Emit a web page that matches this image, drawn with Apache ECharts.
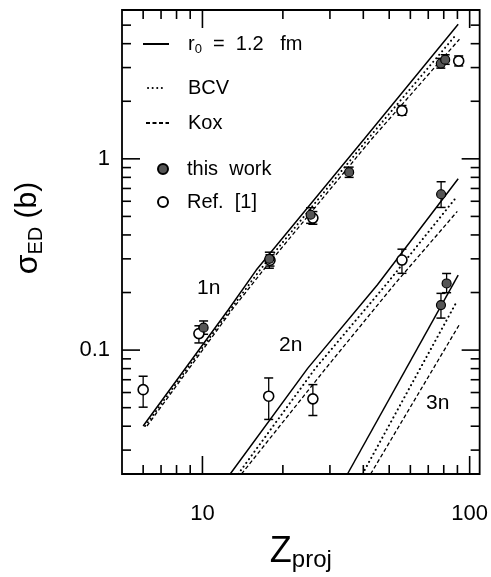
<!DOCTYPE html>
<html>
<head>
<meta charset="utf-8">
<script src="https://cdn.jsdelivr.net/npm/echarts@6/dist/echarts.min.js"></script>
<style>
html,body{margin:0;padding:0;background:#fff;}
#c{width:491px;height:577px;}
</style>
</head>
<body>
<div id="c"></div>
<script>
// ---- axis ticks ----
const xMajorTicks = [10, 100];
const xMinorTicks = [6, 7, 8, 9, 20, 30, 40, 50, 60, 70, 80, 90];
const yMajorTicks = [0.1, 1];
const yMinorTicks = [0.03, 0.04, 0.05, 0.06, 0.07, 0.08, 0.09, 0.2, 0.3, 0.4, 0.5, 0.6, 0.7, 0.8, 0.9, 2, 3, 4, 5];

// ---- theory curves [Z, sigma(b)] ----
const solid1n = [[6.0, 0.0401], [12.5, 0.1625], [15.9, 0.262], [40.3, 1.27], [90.6, 5.05]];
const bcv1n   = [[6.1, 0.0401], [12.7, 0.1625], [16.4, 0.262], [41.6, 1.27], [89.3, 4.48]];
const kox1n   = [[6.2, 0.0401], [12.9, 0.1625], [16.9, 0.262], [43.0, 1.27], [91.6, 4.22]];
const solid2n = [[12.7, 0.0225], [24.8, 0.0805], [45.1, 0.219], [90.6, 0.787]];
const bcv2n   = [[13.6, 0.0225], [26.5, 0.0805], [49.1, 0.2234], [88.7, 0.624]];
const kox2n   = [[14.0, 0.0225], [29.0, 0.0805], [52.7, 0.2234], [89.9, 0.531]];
const solid3n = [[34.9, 0.0225], [90.6, 0.2466]];
const bcv3n   = [[39.7, 0.0225], [88.8, 0.1758]];
const kox3n   = [[42.6, 0.0225], [91.4, 0.1355]];

// ---- data points [Z, sigma, low, high] ----
const thisWork = [
  [10.1, 0.131, 0.121, 0.142],
  [17.8, 0.300, 0.268, 0.325],
  [25.4, 0.510, 0.460, 0.555],
  [35.4, 0.852, 0.800, 0.905],
  [78.0, 3.15, 2.98, 3.35],
  [81.0, 3.30, 3.12, 3.50],
  [78.2, 0.653, 0.557, 0.759],
  [78.1, 0.172, 0.147, 0.198],
  [82.0, 0.223, 0.1996, 0.2515]
];
const ref1 = [
  [6.0, 0.0621, 0.0503, 0.0730],
  [9.7, 0.122, 0.109, 0.134],
  [17.9, 0.295, 0.275, 0.315],
  [25.9, 0.490, 0.455, 0.530],
  [55.8, 1.785, 1.69, 1.90],
  [91.0, 3.25, 3.06, 3.45],
  [17.7, 0.0574, 0.0434, 0.0715],
  [25.9, 0.0556, 0.0455, 0.066],
  [55.8, 0.2957, 0.252, 0.337]
];

// ---- curve labels [Z, sigma, text] ----
const curveLabels = [[10.55, 0.21, '1n'], [21.4, 0.106, '2n'], [76, 0.053, '3n']];

const FONT = "'Liberation Sans', Arial, Helvetica, sans-serif";
const BLACK = '#000';

const xTickData = xMajorTicks.map(v => [v, 1, 1]).concat(xMinorTicks.map(v => [v, 1, 0]));
const yTickData = yMajorTicks.map(v => [10, v, 1]).concat(yMinorTicks.map(v => [10, v, 0]));

function lineShape(x1, y1, x2, y2, w) {
  return { type: 'line', shape: { x1, y1, x2, y2 }, style: { stroke: BLACK, lineWidth: w || 1.3 } };
}

function xTickRender(params, api) {
  const cs = params.coordSys;
  const x = api.coord([api.value(0), 1])[0];
  const len = api.value(2) ? 18 : 9;
  const b = cs.y + cs.height, t = cs.y;
  return { type: 'group', children: [lineShape(x, b, x, b - len, 1.6), lineShape(x, t, x, t + len, 1.6)] };
}
function yTickRender(params, api) {
  const cs = params.coordSys;
  const y = api.coord([10, api.value(1)])[1];
  const len = api.value(2) ? 18 : 9;
  const l = cs.x, r = cs.x + cs.width;
  return { type: 'group', children: [lineShape(l, y, l + len, y, 1.6), lineShape(r, y, r - len, y, 1.6)] };
}
function errRender(params, api) {
  const x = api.value(0);
  const lo = api.coord([x, api.value(2)]);
  const hi = api.coord([x, api.value(3)]);
  const c = 4.5;
  return { type: 'group', children: [
    lineShape(lo[0], lo[1], hi[0], hi[1], 1.3),
    lineShape(lo[0] - c, lo[1], lo[0] + c, lo[1], 1.5),
    lineShape(hi[0] - c, hi[1], hi[0] + c, hi[1], 1.5)
  ] };
}

const SOLID = 'r0 = 1.2 fm', BCV = 'BCV', KOX = 'Kox', TW = 'this work', REF = 'Ref. [1]';
const solidStyle = { color: BLACK, width: 1.5, type: 'solid' };
const dotStyle = { color: BLACK, width: 2, type: [0.1, 4.5], cap: 'round' };
const dashStyle = { color: BLACK, width: 1.3, type: [4, 2.5] };

function lineSeries(name, data, ls) {
  return { name, type: 'line', data, symbol: 'none', showSymbol: false, lineStyle: ls, itemStyle: { color: BLACK },
    clip: true, silent: true, z: 3, animation: false };
}

const series = [
  lineSeries(SOLID, solid1n, solidStyle), lineSeries(SOLID, solid2n, solidStyle), lineSeries(SOLID, solid3n, solidStyle),
  lineSeries(BCV, bcv1n, dotStyle), lineSeries(BCV, bcv2n, dotStyle), lineSeries(BCV, bcv3n, dotStyle),
  lineSeries(KOX, kox1n, dashStyle), lineSeries(KOX, kox2n, dashStyle), lineSeries(KOX, kox3n, dashStyle),
  { type: 'custom', renderItem: errRender, data: thisWork, encode: { x: 0, y: 1 }, z: 4, silent: true, animation: false },
  { type: 'custom', renderItem: errRender, data: ref1, encode: { x: 0, y: 1 }, z: 4, silent: true, animation: false },
  { name: REF, type: 'scatter', data: ref1, encode: { x: 0, y: 1 }, symbol: 'circle', symbolSize: 10,
    itemStyle: { color: '#fff', borderColor: BLACK, borderWidth: 1.6, opacity: 1 }, z: 5, silent: true, animation: false },
  { name: TW, type: 'scatter', data: thisWork, encode: { x: 0, y: 1 }, symbol: 'circle', symbolSize: 9,
    itemStyle: { color: '#555', borderColor: BLACK, borderWidth: 1.2, opacity: 1 }, z: 6, silent: true, animation: false },
  { type: 'scatter', data: curveLabels, symbolSize: 1, itemStyle: { opacity: 0 }, silent: true, animation: false, z: 7,
    label: { show: true, position: 'inside', formatter: p => p.data[2], color: BLACK, opacity: 1, fontSize: 21, fontFamily: FONT, textBorderWidth: 0 } },
  { type: 'custom', renderItem: xTickRender, data: xTickData, z: 2, silent: true, animation: false },
  { type: 'custom', renderItem: yTickRender, data: yTickData, z: 2, silent: true, animation: false }
];

const legTxt = { color: BLACK, fontSize: 20, fontFamily: FONT,
  rich: { sp: { width: 14, lineHeight: 24 }, sp2: { width: 17, lineHeight: 24 },
          r: { fontSize: 20, fontFamily: FONT, color: BLACK, lineHeight: 24, verticalAlign: 'middle' },
          sub: { fontSize: 13, fontFamily: FONT, color: BLACK, lineHeight: 12, verticalAlign: 'bottom' } } };
function legend(name, left, cy, w, h, fmt, hideSym) {
  return { data: [hideSym ? { name, itemStyle: { opacity: 0 } } : name], left, top: cy - 9, padding: 0, itemWidth: w, itemHeight: h, selectedMode: false,
    orient: 'vertical', textStyle: legTxt, formatter: fmt, inactiveColor: BLACK };
}

const option = {
  backgroundColor: '#fff',
  animation: false,
  grid: { left: 122, right: 8, top: 10, bottom: 100.5, show: true, borderColor: BLACK, borderWidth: 1.8, backgroundColor: 'transparent' },
  legend: [
    legend(SOLID, 142, 43, 26, 14, () => '{sp|}{r|r}{sub|0}{r|  =  1.2   fm}', true),
    legend(BCV, 147, 87, 18, 14, n => '{sp2|}{r|' + n + '}', true),
    legend(KOX, 145, 122, 23, 14, n => '{sp|}{r|' + n + '}', true),
    legend(TW, 157, 168, 10, 10, n => '{sp|}{r|' + n.replace(' ', '  ') + '}'),
    legend(REF, 157, 201, 10, 10, n => '{sp|}{r|' + n.replace(' ', '  ') + '}')
  ],
  xAxis: {
    type: 'log', logBase: 10, min: 5, max: 109,
    axisLine: { show: false }, axisTick: { show: false }, splitLine: { show: false },
    axisLabel: { margin: 29, fontSize: 22, fontFamily: FONT, color: BLACK,
      formatter: v => (Math.abs(Math.log10(v) - Math.round(Math.log10(v))) < 1e-6 ? String(Math.round(v)) : '') },
    name: '{z|Z}{s|proj}', nameLocation: 'middle', nameGap: 58,
    nameTextStyle: { rich: { z: { fontSize: 36, fontFamily: FONT, color: BLACK, lineHeight: 40, verticalAlign: 'middle' }, s: { fontSize: 24, fontFamily: FONT, color: BLACK, lineHeight: 8, verticalAlign: 'bottom' } } }
  },
  yAxis: {
    type: 'log', logBase: 10, min: 0.0225, max: 6,
    axisLine: { show: false }, axisTick: { show: false }, splitLine: { show: false },
    axisLabel: { margin: 12, fontSize: 22, fontFamily: FONT, color: BLACK,
      formatter: v => (Math.abs(Math.log10(v) - Math.round(Math.log10(v))) < 1e-6 ? (v >= 1 ? String(Math.round(v)) : String(+v.toFixed(3))) : '') },
    name: '{s|σ}{e|ED}{b| (b)}', nameLocation: 'middle', nameRotate: 90, nameGap: 76,
    nameTextStyle: { padding: [0, 0, 0, 28], rich: { s: { fontSize: 32, fontFamily: FONT, color: BLACK, lineHeight: 36, verticalAlign: 'middle' }, e: { fontSize: 20, fontFamily: FONT, color: BLACK, lineHeight: 14, verticalAlign: 'bottom' }, b: { fontSize: 30, fontFamily: FONT, color: BLACK, lineHeight: 36, verticalAlign: 'middle' } } }
  },
  series
};

const chart = echarts.init(document.getElementById('c'), null, { renderer: 'canvas' });
chart.setOption(option);
</script>
</body>
</html>
